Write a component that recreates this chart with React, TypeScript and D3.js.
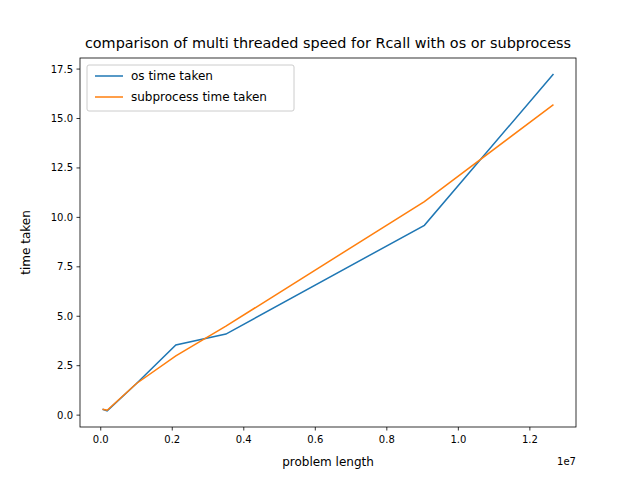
import * as d3 from "d3"

const xs = [0.05e6, 0.18e6, 1.0e6, 2.1e6, 3.5e6, 9.05e6, 12.66e6]
const osTime = [0.3, 0.22, 1.6, 3.55, 4.1, 9.6, 17.25]
const subTime = [0.3, 0.25, 1.6, 3.0, 4.5, 10.8, 15.7]
const xTicks = [0, 0.2e7, 0.4e7, 0.6e7, 0.8e7, 1.0e7, 1.2e7]
const yTicks = [0, 2.5, 5, 7.5, 10, 12.5, 15, 17.5]

const W = 640, H = 480
const L = 80, R = 576, T = 58, B = 427
const x = d3.scaleLinear().domain([-0.58e6, 13.29e6]).range([L, R])
const y = d3.scaleLinear().domain([-0.6, 18.06]).range([B, T])

export default function App() {
  const line = d3.line<number>().x((_, i) => x(xs[i])).y((d) => y(d))
  const font = "DejaVu Sans, sans-serif"
  return (
    <svg width={W} height={H} style={{ position: "absolute", left: 0, top: 0, fontFamily: font }}>
      <rect width={W} height={H} fill="#fff" />
      <path d={line(osTime) || ""} fill="none" stroke="#1f77b4" strokeWidth={1.5} />
      <path d={line(subTime) || ""} fill="none" stroke="#ff7f0e" strokeWidth={1.5} />
      <rect x={L} y={T} width={R - L} height={B - T} fill="none" stroke="#000" strokeWidth={0.8} />
      {xTicks.map((t) => (
        <g key={t} transform={`translate(${x(t)},${B})`}>
          <line y2={3.5} stroke="#000" strokeWidth={0.8} />
          <text y={16} textAnchor="middle" fontSize={10}>{(t / 1e7).toFixed(1)}</text>
        </g>
      ))}
      {yTicks.map((t) => (
        <g key={t} transform={`translate(${L},${y(t)})`}>
          <line x2={-3.5} stroke="#000" strokeWidth={0.8} />
          <text x={-7} dy="0.35em" textAnchor="end" fontSize={10}>{t.toFixed(1)}</text>
        </g>
      ))}
      <text x={R} y={465} textAnchor="end" fontSize={10}>1e7</text>
      <text x={(L + R) / 2} y={466} textAnchor="middle" fontSize={12}>problem length</text>
      <text transform={`translate(30,${(T + B) / 2}) rotate(-90)`} textAnchor="middle" fontSize={12}>time taken</text>
      <text x={(L + R) / 2} y={48} textAnchor="middle" fontSize={14.4}>comparison of multi threaded speed for Rcall with os or subprocess</text>
      <g transform="translate(87,65)">
        <rect width={207} height={46} rx={2} fill="#fff" stroke="#ccc" />
        <line x1={8} x2={36} y1={11} y2={11} stroke="#1f77b4" strokeWidth={1.5} />
        <text x={44} y={15} fontSize={12}>os time taken</text>
        <line x1={8} x2={36} y1={32} y2={32} stroke="#ff7f0e" strokeWidth={1.5} />
        <text x={44} y={36} fontSize={12}>subprocess time taken</text>
      </g>
    </svg>
  )
}
